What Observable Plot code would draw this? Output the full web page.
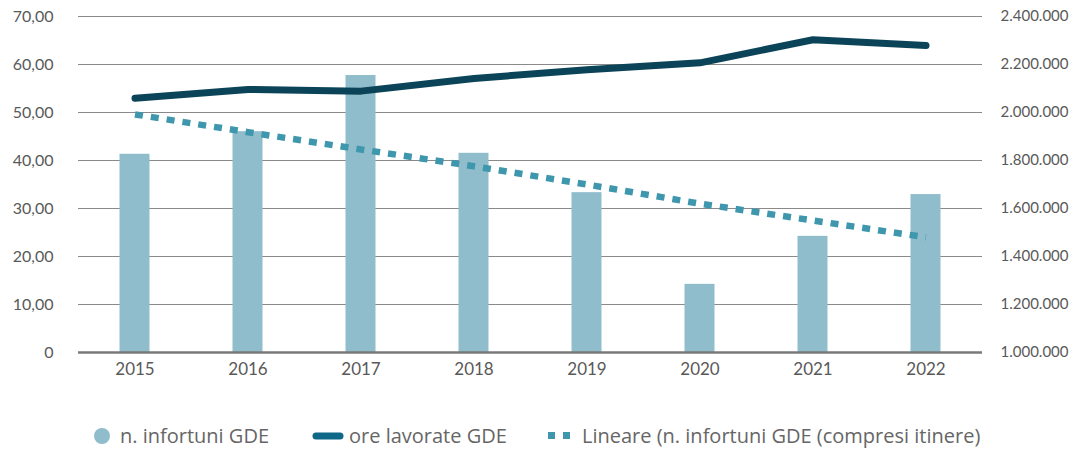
<!DOCTYPE html>
<html><head><meta charset="utf-8">
<script src="https://cdn.jsdelivr.net/npm/d3@7"></script>
<script src="https://cdn.jsdelivr.net/npm/@observablehq/plot@0.6"></script>
<style>
body{margin:0;background:#fff;font-family:Lato,"Open Sans",sans-serif;}
#wrap{position:relative;width:1071px;height:450px;}
.leg{position:absolute;top:423px;font-family:"Open Sans",sans-serif;font-size:20px;color:#666;white-space:nowrap;line-height:26px;}
</style></head><body><div id="wrap"></div>
<script>
const years = ["2015","2016","2017","2018","2019","2020","2021","2022"];
const infortuni = [41.3, 46.0, 57.7, 41.5, 33.3, 14.2, 24.2, 32.9];
const oreLavorate = [2059000, 2096000, 2089000, 2142000, 2178000, 2207000, 2303000, 2279000];
const trend = [49.6, 45.9, 42.3, 38.8, 35.0, 31.0, 27.5, 24.0];
const leftTicks = [0,10,20,30,40,50,60,70];
const rightTicks = [1000000,1200000,1400000,1600000,1800000,2000000,2200000,2400000];

const rMin = 1000000, rMax = 2400000, lMax = 70;
const toLeft = v => (v - rMin) / (rMax - rMin) * lMax;
const fromLeft = v => rMin + v / lMax * (rMax - rMin);

const data = years.map((y,i)=>({year:y, inf:infortuni[i], ore:oreLavorate[i], tr:trend[i]}));
const fmtL = v => v === 0 ? "0" : v.toFixed(2).replace(".", ",");
const fmtR = v => Math.round(v).toString().replace(/\B(?=(\d{3})+(?!\d))/g, ".");

const chart = Plot.plot({
  width: 1071, height: 405,
  marginLeft: 78, marginRight: 89, marginTop: 16, marginBottom: 53,
  style: {fontFamily: "Lato, sans-serif", fontSize: "16px", color: "#595959", overflow: "visible"},
  x: {domain: years, padding: 0, label: null},
  y: {domain: [0, 70], label: null},
  marks: [
    Plot.gridY(leftTicks.filter(d=>d>0), {stroke: "#8a8a8a", strokeOpacity: 1, strokeWidth: 1}),
    Plot.barY(data, {x: "year", y: "inf", fill: "#90bdcc", insetLeft: 41.5, insetRight: 41.5}),
    Plot.ruleY([0], {stroke: "#7a7a7a", strokeWidth: 2.5}),
    Plot.line(data, {x: "year", y: d => toLeft(d.ore), stroke: "#0b4458", strokeWidth: 7, strokeLinecap: "round", strokeLinejoin: "round"}),
    Plot.line(data, {x: "year", y: "tr", stroke: "#3e97ad", strokeWidth: 6.5, strokeDasharray: "8,8", strokeLinecap: "butt"}),
    Plot.axisY(leftTicks, {anchor: "left", tickSize: 0, tickPadding: 25, tickFormat: fmtL, label: null, fontSize: 16, fill: "#595959"}),
    Plot.axisY(rightTicks.map(toLeft), {anchor: "right", tickSize: 0, tickPadding: 18, tickFormat: d => fmtR(fromLeft(d)), label: null, fontSize: 15, fill: "#595959"}),
    Plot.axisX({tickSize: 0, tickPadding: 10, label: null, fontSize: 17, fill: "#595959"})
  ]
});
const wrap = document.getElementById("wrap");
wrap.appendChild(chart);

const legend = [
  {x: 92, label: "n. infortuni GDE", sw: '<svg width="20" height="20" style="vertical-align:-3px"><circle cx="10" cy="10" r="8" fill="#90bdcc"/></svg>', gap: 8},
  {x: 312, label: "ore lavorate GDE", sw: '<svg width="32" height="12" style="vertical-align:1px"><line x1="4" y1="6" x2="28" y2="6" stroke="#0f6888" stroke-width="7" stroke-linecap="round"/></svg>', gap: 5},
  {x: 547, label: "Lineare (n. infortuni GDE (compresi itinere)", sw: '<svg width="28" height="12" style="vertical-align:1px"><rect x="1" y="2" width="7" height="7" fill="#3e97ad"/><rect x="16" y="2" width="7" height="7" fill="#3e97ad"/></svg>', gap: 7}
];
for (const l of legend) {
  const d = document.createElement("div");
  d.className = "leg";
  d.style.left = l.x + "px";
  d.innerHTML = l.sw + '<span style="margin-left:' + l.gap + 'px">' + l.label + '</span>';
  wrap.appendChild(d);
}
</script></body></html>
